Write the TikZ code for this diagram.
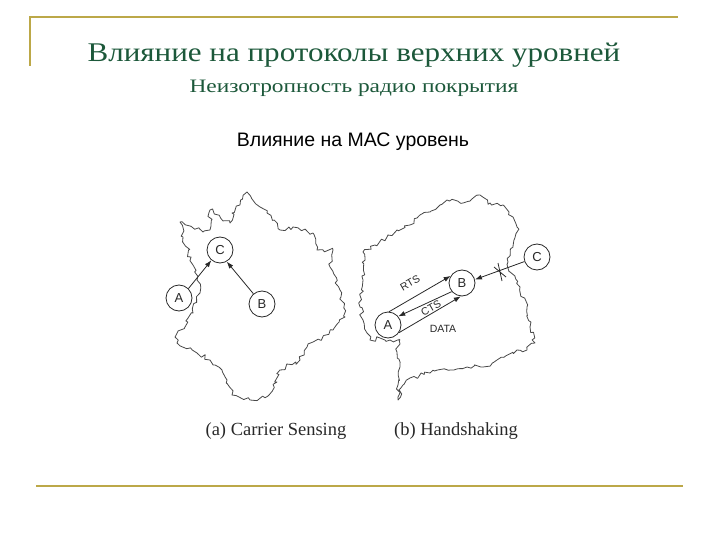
\documentclass[tikz,border=0pt]{standalone}
\usepackage{fontspec}
\setmainfont{Liberation Serif}
\setsansfont{Liberation Sans}
\usetikzlibrary{arrows.meta,decorations.pathmorphing}
\definecolor{rule}{RGB}{188,168,72}
\definecolor{titlegreen}{RGB}{28,88,58}
\definecolor{ink}{RGB}{40,40,40}
\tikzset{
  station/.style={circle,draw=ink,line width=0.8pt,minimum size=26pt,inner sep=0pt,
    font=\fontsize{13}{13}\sffamily,text=ink},
  jag/.style={draw=ink!85,line width=0.8pt,line join=round,
    decorate,decoration={random steps,segment length=3.5pt,amplitude=2.4pt}},
  msg/.style={draw=ink,line width=0.8pt,-{Latex[length=7pt,width=5pt]}},
  lbl/.style={font=\fontsize{10.5}{10.5}\sffamily,text=ink,inner sep=0pt},
  captext/.style={font=\fontsize{18.5}{19}\selectfont,text=ink,anchor=base},
}
\begin{document}
\begin{tikzpicture}[x=1pt,y=-1pt]
\useasboundingbox (0,0) rectangle (720,540);
\pgfmathsetseed{11}
% frame rules
\draw[rule,line width=2pt] (29.5,66) -- (29.5,17.5) -- (678,17.5);
\draw[rule,line width=2pt] (36,485.5) -- (683,485.5);
% titles
\node[anchor=base,text=titlegreen,font=\fontsize{27}{27}\selectfont] (title) at (354,62)
  {\scalebox{1.15}[1]{Влияние на протоколы верхних уровней}};
\node[anchor=base,text=titlegreen,font=\fontsize{19}{19}\selectfont] (subtitle) at (354,93)
  {\scalebox{1.23}[1]{Неизотропность радио покрытия}};
\node[anchor=base,font=\fontsize{19.5}{19.5}\sffamily] (mac) at (353,147)
  {Влияние на МАС уровень};
% left blob
\draw[jag] (247,192) -- (260,207) -- (267,213) -- (280,230) -- (293,227) -- (313,233)
  -- (317,250) -- (333,250) -- (330,267) -- (340,290) -- (345,317) -- (333,330)
  -- (320,340) -- (307,347) -- (300,360) -- (280,370) -- (277,382) -- (268,396)
  -- (250,400) -- (232,395) -- (227,380) -- (222,370) -- (210,360) -- (197,353)
  -- (177,343) -- (175,337) -- (185,327) -- (193,313) -- (195,303) -- (200,293)
  -- (197,280) -- (193,265) -- (183,237) -- (180,222) -- (203,232) -- (210,230)
  -- (210,210) -- (230,223) -- (232,213) -- (240,205) -- cycle;
% right blob
\draw[jag] (363,252) -- (375,245) -- (387,237) -- (397,230) -- (410,225) -- (417,218)
  -- (430,212) -- (440,205) -- (447,200) -- (463,203) -- (480,195) -- (490,203)
  -- (503,205) -- (513,217) -- (517,227) -- (513,247) -- (508,262) -- (510,272)
  -- (520,287) -- (527,307) -- (530,327) -- (535,343) -- (527,350) -- (517,350)
  -- (497,360) -- (483,367) -- (467,367) -- (450,370) -- (430,373) -- (410,378)
  -- (403,385) -- (398,400) -- (398,385) -- (400,367) -- (397,352) -- (400,340)
  -- (390,340) -- (380,338) -- (370,340) -- (363,320) -- (360,307) -- (363,280) -- cycle;
% left stations
\node[station,fill=white] (lC) at (220,250) {C};
\node[station,fill=white] (lA) at (179,298) {A};
\node[station,fill=white] (lB) at (262,304) {B};
\draw[msg] (lA.45) -- (lC.230);
\draw[msg] (lB.130) -- (lC.300);
% right stations
\node[station,fill=white] (rA) at (388,325) {A};
\node[station,fill=white] (rB) at (462,283) {B};
\node[station,fill=white] (rC) at (537,257) {C};
\draw[msg] (rA.85) -- (rB.148);
\draw[msg] (rB.220) -- (rA.40);
\draw[msg] (rA.-35) -- (rB.265);
\draw[msg] (rC.200) -- (rB.15);
\draw[ink,line width=0.8pt] (494,267) -- (506,277) (498,263) -- (502,281);
\node[lbl,rotate=30] (rts) at (410,283) {RTS};
\node[lbl,rotate=30] (cts) at (431,308) {CTS};
\node[lbl] (data) at (443,329) {DATA};
% captions
\node[captext] (capa) at (276,435) {(a) Carrier Sensing};
\node[captext] (capb) at (456,435) {(b) Handshaking};
\end{tikzpicture}
\end{document}
